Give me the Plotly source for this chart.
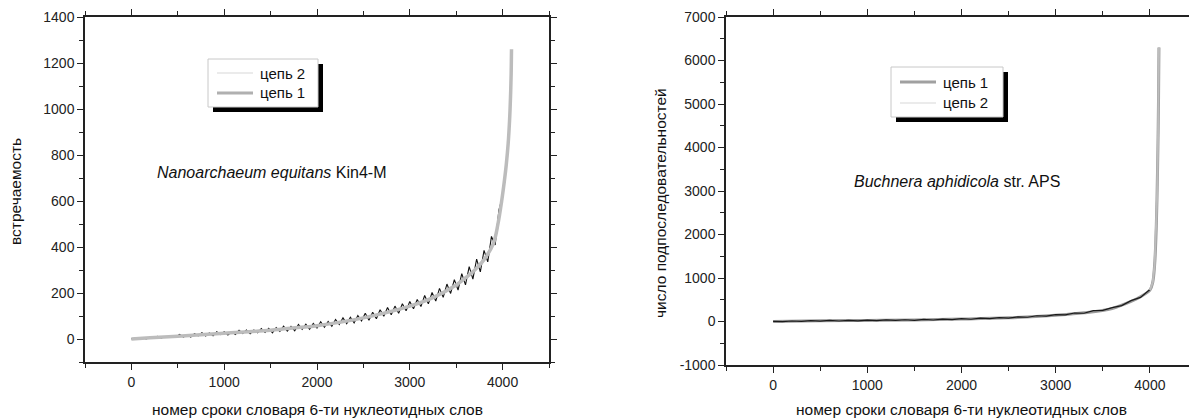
import plotly.graph_objects as go

# ---------------- data ----------------
# Left panel: Nanoarchaeum equitans Kin4-M
left_x1 = [0, 200, 500, 1000, 1500, 1800, 2000, 2500, 3000, 3250, 3500, 3614, 3700,
           3800, 3900, 3950, 3990, 4020, 4040, 4060, 4075, 4085, 4092, 4096]
left_y1 = [0, 5, 12, 25, 38, 50, 58, 92, 143, 180, 235, 270, 300,
           345, 415, 500, 600, 690, 760, 850, 950, 1050, 1150, 1260]

left_x2 = list(range(0, 4001, 40))
left_y2 = [0, 4, -1, 4, 0, 8, 4, 11, 4, 11, 7, 15, 10, 20, 8, 18, 8, 23, 14, 27, 13,
           26, 14, 32, 19, 32, 17, 31, 20, 38, 24, 39, 23, 39, 27, 45, 28, 46,
           27, 50, 33, 56, 34, 55, 36, 63, 42, 64, 42, 68, 48,
           75, 51, 76, 55, 85, 63, 92, 67, 94, 70, 102, 79,
           112, 82, 116, 88, 127, 99, 137, 105, 143, 112, 153, 123, 163,
           131, 172, 141, 189, 153, 202, 165, 220, 181, 239, 198, 258,
           213, 284, 235, 315, 260, 347, 292, 385, 335, 446, 409, 560, 620]

# Right panel: Buchnera aphidicola str. APS
right_x1 = [0, 500, 1000, 1500, 2000, 2500, 3000, 3300, 3600, 3800, 3900, 4000,
            4030, 4050, 4065, 4075, 4085, 4092, 4096]
right_y1 = [0, 15, 25, 35, 55, 85, 145, 200, 300, 460, 570, 720,
            900, 1300, 2000, 2800, 4000, 5200, 6300]

right_x2 = list(range(0, 4001, 100))
right_y2 = [5, -5, 12, 2, 20, 8, 25, 12, 28, 16, 32, 20, 36, 24, 40, 28, 48, 35, 56,
            42, 64, 52, 76, 64, 90, 76, 108, 98, 132, 124, 158, 152, 195, 190, 248,
            255, 318, 365, 480, 555, 735]

x_ticks = [0, 1000, 2000, 3000, 4000]
left_y_ticks = [0, 200, 400, 600, 800, 1000, 1200, 1400]
right_y_ticks = [-1000, 0, 1000, 2000, 3000, 4000, 5000, 6000, 7000]

series_names = ["цепь 1", "цепь 2"]
x_title = "номер сроки словаря 6-ти нуклеотидных слов"
left_y_title = "встречаемость"
right_y_title = "число подпоследовательностей"
left_label = "<i>Nanoarchaeum equitans</i> Kin4-M"
right_label = "<i>Buchnera aphidicola</i> str. APS"

# ---------------- layout geometry ----------------
W, H = 1189, 419
MT, MB = 17, 54
PH = H - MT - MB  # plot-area height in px


def px(x):
    return x / W


def py(y):
    return (H - MB - y) / PH


FONT = "Liberation Sans, Arial, sans-serif"
AX = "#222222"

fig = go.Figure()

# left panel traces
fig.add_trace(go.Scatter(x=left_x2, y=left_y2, mode="lines", name=series_names[1],
                         line=dict(color="#111111", width=1.1), xaxis="x", yaxis="y",
                         showlegend=False))
fig.add_trace(go.Scatter(x=left_x1, y=left_y1, mode="lines", name=series_names[0],
                         line=dict(color="#bcbcbc", width=3.5, shape="spline"),
                         xaxis="x", yaxis="y", showlegend=False))

# right panel traces
fig.add_trace(go.Scatter(x=right_x1, y=right_y1, mode="lines", name=series_names[0],
                         line=dict(color="#9a9a9a", width=3, shape="spline"),
                         xaxis="x2", yaxis="y2", showlegend=False))
fig.add_trace(go.Scatter(x=right_x2, y=right_y2, mode="lines", name=series_names[1],
                         line=dict(color="#1a1a1a", width=1.2), xaxis="x2", yaxis="y2",
                         showlegend=False))
fig.add_trace(go.Scatter(x=right_x1[11:], y=right_y1[11:], mode="lines",
                         name=series_names[1], line=dict(color="#bdbdbd", width=2),
                         xaxis="x2", yaxis="y2", showlegend=False))

axis_common = dict(showline=True, linecolor=AX, linewidth=1.5, ticks="outside",
                   tickcolor=AX, tickwidth=1.2, ticklen=6, showgrid=False,
                   zeroline=False, tickfont=dict(family=FONT, size=14, color="#222"))

fig.update_layout(
    width=W, height=H,
    margin=dict(l=0, r=0, t=MT, b=MB),
    paper_bgcolor="white", plot_bgcolor="white",
    showlegend=False,
    xaxis=dict(domain=[px(85), px(549)], range=[-500, 4500], tickvals=x_ticks,
               mirror="ticks", anchor="y",
               minor=dict(ticks="outside", dtick=500, ticklen=4, tickcolor=AX),
               **axis_common),
    yaxis=dict(domain=[py(362), 1], range=[-100, 1400], tickvals=left_y_ticks,
               mirror="ticks", anchor="x",
               minor=dict(ticks="outside", dtick=100, ticklen=4, tickcolor=AX),
               **axis_common),
    xaxis2=dict(domain=[px(726), 1], range=[-500, 4415], tickvals=x_ticks,
                mirror="ticks", anchor="y2",
                minor=dict(ticks="outside", dtick=500, ticklen=4, tickcolor=AX),
                **axis_common),
    yaxis2=dict(domain=[0, 1], range=[-1000, 7000], tickvals=right_y_ticks,
                ticktext=[str(v) for v in right_y_ticks],
                mirror=False, anchor="x2",
                minor=dict(ticks="outside", dtick=500, ticklen=4, tickcolor=AX),
                **axis_common),
)

ann = []
shapes = []
tfont = dict(family=FONT, size=15.5, color="#111")

# axis titles
ann.append(dict(text=x_title, x=px(317), y=py(409), xref="paper", yref="paper",
                showarrow=False, font=tfont, xanchor="center", yanchor="middle"))
ann.append(dict(text=x_title, x=px(961), y=py(409), xref="paper", yref="paper",
                showarrow=False, font=tfont, xanchor="center", yanchor="middle"))
ann.append(dict(text=left_y_title, x=px(15), y=py(192), xref="paper", yref="paper",
                showarrow=False, font=tfont, textangle=-90, xanchor="center",
                yanchor="middle"))
ann.append(dict(text=right_y_title, x=px(660), y=py(203), xref="paper", yref="paper",
                showarrow=False, font=tfont, textangle=-90, xanchor="center",
                yanchor="middle"))

# species labels
ann.append(dict(text=left_label, x=px(155), y=py(172), xref="paper", yref="paper",
                showarrow=False, font=dict(family=FONT, size=16, color="#111"),
                xanchor="left", yanchor="middle"))
ann.append(dict(text=right_label, x=px(852), y=py(181), xref="paper", yref="paper",
                showarrow=False, font=dict(family=FONT, size=16, color="#111"),
                xanchor="left", yanchor="middle"))


def legend_box(x0, y0, x1, y1, entries):
    # shadow
    shapes.append(dict(type="rect", xref="paper", yref="paper",
                       x0=px(x0 + 5), x1=px(x1 + 5), y0=py(y1 + 5), y1=py(y0 + 5),
                       fillcolor="black", line=dict(width=0), layer="above"))
    # box
    shapes.append(dict(type="rect", xref="paper", yref="paper",
                       x0=px(x0), x1=px(x1), y0=py(y1), y1=py(y0),
                       fillcolor="white", line=dict(color="#c8c8c8", width=1),
                       layer="above"))
    for (ly, color, width, label) in entries:
        shapes.append(dict(type="line", xref="paper", yref="paper",
                           x0=px(x0 + 9), x1=px(x0 + 45), y0=py(ly), y1=py(ly),
                           line=dict(color=color, width=width), layer="above"))
        ann.append(dict(text=label, x=px(x0 + 50), y=py(ly), xref="paper",
                        yref="paper", showarrow=False, xanchor="left",
                        yanchor="middle", font=dict(family=FONT, size=15,
                                                    color="#111")))


legend_box(208, 59, 318, 107, [(73, "#e4e4e4", 1.5, series_names[1]),
                                (93, "#b0b0b0", 3, series_names[0])])
legend_box(891, 67, 1003, 117, [(82, "#a0a0a0", 3, series_names[0]),
                                (103, "#e4e4e4", 1.5, series_names[1])])

fig.update_layout(annotations=ann, shapes=shapes)
fig.write_html("out.html")
